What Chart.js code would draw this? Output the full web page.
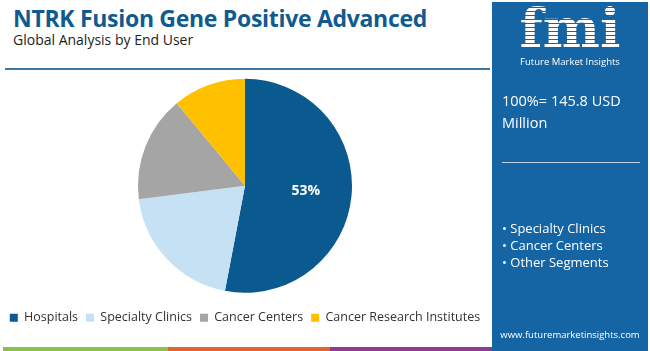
<!DOCTYPE html>
<html>
<head>
<meta charset="utf-8">
<script src="https://cdn.jsdelivr.net/npm/chart.js@4.4.0/dist/chart.umd.min.js"></script>
<style>
    body { margin: 0; width: 650px; height: 351px; overflow: hidden; background: #fff; font-family: 'Open Sans', sans-serif; position: relative; }
    .title { position: absolute; left: 13px; top: 2px; font-size: 23px; font-weight: 700; color: #0f5b8f; letter-spacing: -0.3px; }
    .subtitle { position: absolute; left: 13px; top: 30px; font-size: 14px; color: #222; }
    .rule { position: absolute; left: 5px; top: 68px; width: 485px; height: 2px; background: #3b78a8; }
    .chart-box { position: absolute; left: -8px; top: 68px; width: 506px; height: 266px; }
    .panel { position: absolute; left: 492px; top: 2px; width: 156px; height: 349px; background: #1565a5; color: #fff; }
    .logo { position: absolute; left: 0; top: -6px; width: 156px; text-align: center; font-family: 'DejaVu Serif', serif; font-weight: 700; font-size: 54px;
        background: repeating-linear-gradient(#fff 0 3px, #1565a5 3px 4px); -webkit-background-clip: text; background-clip: text; color: transparent; }
    .logo-sub { position: absolute; left: 0; top: 53px; width: 156px; text-align: center; font-size: 9.5px; }
    .total { position: absolute; left: 10px; top: 88px; font-size: 14.5px; line-height: 22px; }
    .sep { position: absolute; left: 10px; top: 160px; width: 138px; height: 1px; background: #b9d3ea; }
    .bullets { position: absolute; left: 10px; top: 218px; font-size: 13px; line-height: 17px; }
    .url { position: absolute; left: 0; top: 326px; width: 156px; text-align: center; font-size: 9.5px; }
    .strip { position: absolute; top: 347px; height: 4px; }
</style>
</head>
<body>
<div class="title">NTRK Fusion Gene Positive Advanced</div>
<div class="subtitle">Global Analysis by End User</div>
<div class="rule"></div>
<div class="chart-box"><canvas id="pieChart"></canvas></div>

<div class="panel">
    <div class="logo">fmi</div>
    <div class="logo-sub">Future Market Insights</div>
    <div class="total">100%= 145.8 USD<br>Million</div>
    <div class="sep"></div>
    <div class="bullets">• Specialty Clinics<br>• Cancer Centers<br>• Other Segments</div>
    <div class="url">www.futuremarketinsights.com</div>
</div>

<div class="strip" style="left:3px;width:165px;background:#8dc04a;"></div>
<div class="strip" style="left:168px;width:162px;background:#e0662f;"></div>
<div class="strip" style="left:330px;width:162px;background:#8e3a96;"></div>

<script>
// Chart data
const segments = ['Hospitals', 'Specialty Clinics', 'Cancer Centers', 'Cancer Research Institutes'];
const shares = [53, 20, 16, 11];
const segmentColors = ['#0b5a8f', '#c6e1f3', '#a5a5a5', '#ffc000'];
const shownLabels = ['53%', '', '', ''];

// Draw the percentage label inside the slice
const sliceLabels = {
    id: 'sliceLabels',
    afterDatasetsDraw(chart) {
        const ctx = chart.ctx;
        const arcs = chart.getDatasetMeta(0).data;
        ctx.save();
        ctx.fillStyle = '#fff';
        ctx.font = 'bold 14px "Open Sans", sans-serif';
        ctx.textAlign = 'center';
        ctx.textBaseline = 'middle';
        arcs.forEach((arc, i) => {
            if (!shownLabels[i]) return;
            const mid = (arc.startAngle + arc.endAngle) / 2;
            const r = arc.outerRadius * 0.57;
            ctx.fillText(shownLabels[i], arc.x + Math.cos(mid) * r, arc.y + Math.sin(mid) * r);
        });
        ctx.restore();
    }
};

new Chart(document.getElementById('pieChart'), {
    type: 'pie',
    data: {
        labels: segments,
        datasets: [{
            data: shares,
            backgroundColor: segmentColors,
            borderWidth: 0,
            radius: 107
        }]
    },
    options: {
        responsive: true,
        maintainAspectRatio: false,
        animation: false,
        layout: {
            padding: 0
        },
        plugins: {
            legend: {
                position: 'bottom',
                labels: {
                    boxWidth: 8,
                    boxHeight: 8,
                    color: '#333',
                    padding: 8,
                    font: { size: 12.5, family: 'Open Sans' }
                }
            },
            tooltip: { enabled: false }
        }
    },
    plugins: [sliceLabels]
});
</script>
</body>
</html>
